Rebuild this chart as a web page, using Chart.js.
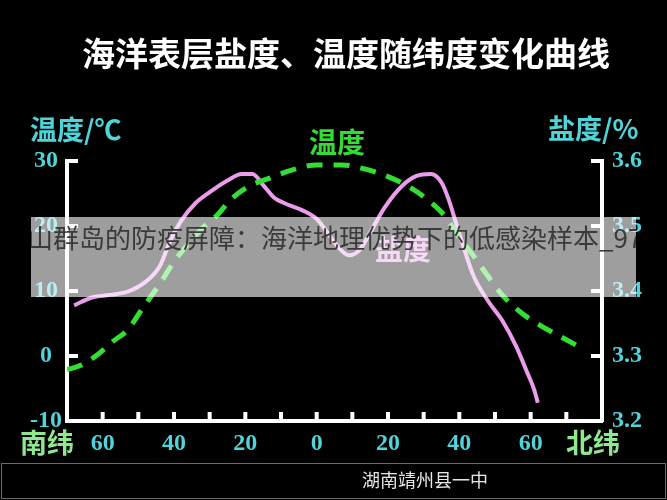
<!DOCTYPE html>
<html>
<head>
<meta charset="utf-8">
<script src="https://cdn.jsdelivr.net/npm/chart.js@4.4.1/dist/chart.umd.min.js"></script>
<style>
  html, body { margin: 0; padding: 0; background: #000; }
  #wrap { width: 667px; height: 500px; position: relative; }
</style>
</head>
<body>
<div id="wrap"><canvas id="chart"></canvas></div>
<script>
// 纬度（南纬为负）与表层温度 ℃
const tempLat = [-70, -66, -61, -57, -53, -49, -44, -40, -36, -32, -28, -24, -19, -13, -7, 0, 7, 14, 20, 26, 31, 36, 40, 44, 48, 52, 57, 63, 68, 73];
const tempVal = [-2.1, -1.4, 0.4, 2.3, 4.0, 7.2, 11.1, 14.5, 17.3, 19.7, 21.6, 24.1, 26.1, 27.4, 28.6, 29.4, 29.4, 28.7, 27.6, 26.0, 24.1, 21.5, 18.2, 15.4, 12.3, 9.4, 6.8, 4.6, 3.1, 1.6];

// 纬度与表层盐度 %
const salLat = [-68, -63, -58, -53, -48, -44, -41, -38, -34, -30, -25, -21, -18, -15, -12, -9, -4, 0, 3, 6, 9, 12, 15, 19, 24, 28, 32, 35, 37, 39, 41, 44, 48, 52, 56, 59, 61, 62];
const salVal = [3.378, 3.390, 3.394, 3.399, 3.414, 3.438, 3.478, 3.508, 3.535, 3.552, 3.570, 3.580, 3.580, 3.563, 3.544, 3.535, 3.524, 3.511, 3.490, 3.468, 3.455, 3.463, 3.490, 3.528, 3.562, 3.577, 3.580, 3.567, 3.541, 3.506, 3.471, 3.423, 3.385, 3.355, 3.314, 3.275, 3.248, 3.228];

// 刻度标签
const xLabelVals = [-60, -40, -20, 0, 20, 40, 60];
const tempTicks = [-10, 0, 10, 20, 30];
const salTicks = [3.2, 3.3, 3.4, 3.5, 3.6];

const CYAN = '#4fd4da';
const GREEN = '#33dd33';
const PALE_GREEN = '#8fe88f';
const PINK = '#eb9ceb';
const NUM_FONT = { family: "'Liberation Serif', 'DejaVu Serif', serif", size: 24, weight: 'bold' };
const CJK = "'Noto Sans CJK SC', 'Noto Sans', sans-serif";

const toPoints = (xs, ys) => xs.map((x, i) => ({ x: x, y: ys[i] }));

// 黑底、标题、内向刻度、标注与遮挡横幅
const decor = {
    id: 'decor',
    beforeDraw(chart) {
        const ctx = chart.ctx;
        ctx.save();
        ctx.fillStyle = '#000';
        ctx.fillRect(0, 0, chart.width, chart.height);
        ctx.restore();
    },
    afterDraw(chart) {
        const ctx = chart.ctx;
        const area = chart.chartArea;
        const sx = chart.scales.x, sy = chart.scales.y, sy2 = chart.scales.y2;
        ctx.save();

        // 内向刻度线
        ctx.strokeStyle = '#fff';
        ctx.lineWidth = 4;
        ctx.beginPath();
        sx.ticks.forEach(t => {
            if (t.value <= sx.min || t.value >= sx.max) return;
            const px = sx.getPixelForValue(t.value);
            ctx.moveTo(px, area.bottom);
            ctx.lineTo(px, area.bottom - 9);
        });
        tempTicks.forEach(v => {
            if (v <= sy.min) return;
            const py = sy.getPixelForValue(v);
            ctx.moveTo(area.left, py);
            ctx.lineTo(area.left + 11, py);
        });
        salTicks.forEach(v => {
            if (v <= sy2.min) return;
            const py = sy2.getPixelForValue(v);
            ctx.moveTo(area.right, py);
            ctx.lineTo(area.right - 11, py);
        });
        ctx.stroke();

        // 标题
        ctx.textAlign = 'center';
        ctx.textBaseline = 'middle';
        ctx.fillStyle = '#fff';
        ctx.font = 'bold 33px ' + CJK;
        ctx.fillText('海洋表层盐度、温度随纬度变化曲线', 346, 53);

        // 坐标轴名称
        ctx.fillStyle = CYAN;
        ctx.font = 'bold 27px ' + CJK;
        ctx.textAlign = 'left';
        ctx.fillText('温度/℃', 30, 130);
        ctx.fillText('盐度/%', 548, 129);

        ctx.fillStyle = PALE_GREEN;
        ctx.font = 'bold 27px ' + CJK;
        ctx.textAlign = 'center';
        ctx.fillText('南纬', 47, 443);
        ctx.fillText('北纬', 593, 443);

        // 曲线名称
        ctx.font = 'bold 28px ' + CJK;
        ctx.fillStyle = GREEN;
        ctx.fillText('温度', 337, 142);
        ctx.fillStyle = PINK;
        ctx.fillText('盐度', 403, 249);

        // 底部栏
        ctx.strokeStyle = '#6a6a6a';
        ctx.lineWidth = 1;
        ctx.strokeRect(1.5, 463.5, 664, 35);
        ctx.fillStyle = '#e6e6e6';
        ctx.font = '18px ' + CJK;
        ctx.textAlign = 'left';
        ctx.fillText('湖南靖州县一中', 362, 480);

        // 半透明横幅
        ctx.fillStyle = 'rgba(255,255,255,0.62)';
        ctx.fillRect(31, 217, 605, 80);
        ctx.beginPath();
        ctx.rect(31, 217, 605, 80);
        ctx.clip();
        ctx.fillStyle = '#3a3a3a';
        ctx.font = '26px ' + CJK;
        ctx.textAlign = 'left';
        ctx.fillText('山群岛的防疫屏障：海洋地理优势下的低感染样本_97', 27, 238);

        ctx.restore();
    }
};

new Chart(document.getElementById('chart'), {
    type: 'scatter',
    data: {
        datasets: [
            {
                label: '温度',
                data: toPoints(tempLat, tempVal),
                yAxisID: 'y',
                showLine: true,
                borderColor: GREEN,
                borderWidth: 5,
                borderDash: [16, 11],
                cubicInterpolationMode: 'monotone',
                pointRadius: 0,
                fill: false
            },
            {
                label: '盐度',
                data: toPoints(salLat, salVal),
                yAxisID: 'y2',
                showLine: true,
                borderColor: PINK,
                borderWidth: 4,
                cubicInterpolationMode: 'monotone',
                pointRadius: 0,
                fill: false
            }
        ]
    },
    options: {
        responsive: true,
        maintainAspectRatio: false,
        animation: false,
        layout: { padding: { top: 161, left: 0, right: 0, bottom: 0 } },
        plugins: {
            legend: { display: false },
            title: { display: false },
            tooltip: { enabled: false }
        },
        scales: {
            x: {
                type: 'linear',
                min: -70,
                max: 80,
                grid: { display: false, drawTicks: false },
                border: { display: true, color: '#fff', width: 4 },
                ticks: {
                    stepSize: 10,
                    autoSkip: false,
                    maxRotation: 0,
                    padding: 8,
                    color: CYAN,
                    font: NUM_FONT,
                    callback: v => xLabelVals.includes(v) ? String(Math.abs(v)) : ''
                },
                afterFit: s => { s.height = 79; }
            },
            y: {
                position: 'left',
                min: tempTicks[0],
                max: tempTicks[tempTicks.length - 1],
                grid: { display: false, drawTicks: false },
                border: { display: true, color: '#fff', width: 4 },
                ticks: {
                    stepSize: 10,
                    padding: 5,
                    crossAlign: 'center',
                    color: CYAN,
                    font: NUM_FONT
                },
                afterFit: s => { s.width = 67; }
            },
            y2: {
                position: 'right',
                min: salTicks[0],
                max: salTicks[salTicks.length - 1],
                grid: { display: false, drawTicks: false },
                border: { display: true, color: '#fff', width: 4 },
                ticks: {
                    stepSize: 0.1,
                    padding: 10,
                    color: CYAN,
                    font: NUM_FONT,
                    callback: v => Number(v).toFixed(1)
                },
                afterFit: s => { s.width = 65; }
            }
        }
    },
    plugins: [decor]
});
</script>
</body>
</html>
